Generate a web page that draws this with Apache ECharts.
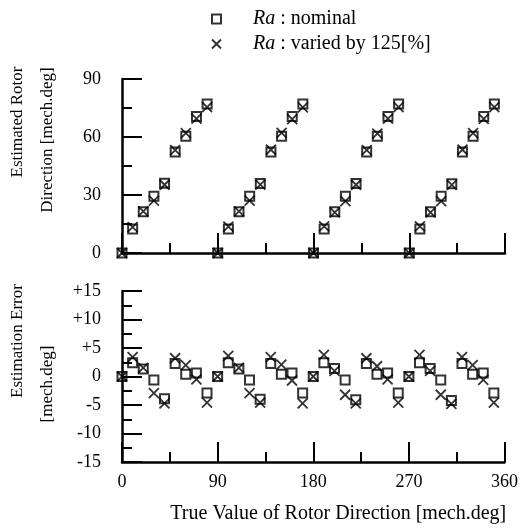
<!DOCTYPE html>
<html>
<head>
<meta charset="utf-8">
<script src="https://cdn.jsdelivr.net/npm/echarts@6/dist/echarts.min.js"></script>
<style>
  html, body { margin: 0; padding: 0; background: #fff; }
  #main { width: 521px; height: 532px; }
</style>
</head>
<body>
<div id="main"></div>
<script>
// true rotor direction [mech.deg]
const trueDeg = [0, 10, 20, 30, 40, 50, 60, 70, 80, 90, 100, 110, 120, 130, 140, 150, 160, 170,
                 180, 190, 200, 210, 220, 230, 240, 250, 260, 270, 280, 290, 300, 310, 320, 330, 340, 350];

// estimated rotor direction (wraps every 90 deg)
const estNominal = [0, 12.4, 21.3, 29.4, 36.1, 52.3, 60.4, 70.6, 77.1,
                    0, 12.4, 21.3, 29.4, 36.0, 52.3, 60.4, 70.6, 77.1,
                    0, 12.4, 21.4, 29.4, 35.9, 52.3, 60.4, 70.6, 77.1,
                    0, 12.4, 21.4, 29.4, 35.8, 52.3, 60.4, 70.6, 77.1];
const estVaried = [0, 13.4, 21.5, 27.1, 35.3, 53.2, 62.0, 69.5, 75.4,
                   0, 13.6, 21.5, 27.1, 35.4, 53.4, 62.1, 69.3, 75.3,
                   0, 13.8, 21.0, 26.8, 35.3, 53.2, 61.8, 69.5, 75.4,
                   0, 13.8, 21.0, 26.8, 35.2, 53.4, 62.0, 69.4, 75.4];

// estimation error [mech.deg]
const errNominal = [0, 2.4, 1.3, -0.6, -3.9, 2.3, 0.4, 0.6, -2.9,
                    0, 2.4, 1.3, -0.6, -4.0, 2.3, 0.4, 0.6, -2.9,
                    0, 2.4, 1.4, -0.6, -4.1, 2.3, 0.4, 0.6, -2.9,
                    0, 2.4, 1.4, -0.6, -4.2, 2.3, 0.4, 0.6, -2.9];
const errVaried = [0, 3.4, 1.5, -2.9, -4.7, 3.2, 2.0, -0.5, -4.6,
                   0, 3.6, 1.5, -2.9, -4.6, 3.4, 2.1, -0.7, -4.7,
                   0, 3.8, 1.0, -3.2, -4.7, 3.2, 1.8, -0.5, -4.6,
                   0, 3.8, 1.0, -3.2, -4.8, 3.4, 2.0, -0.6, -4.6];

const chart = echarts.init(document.getElementById('main'));
const font = '"Liberation Serif", "Times New Roman", serif';
const crossPath = 'path://M0,0L10,10M10,0L0,10';

function pairs(xs, ys) {
  return xs.map((x, i) => [x, ys[i]]);
}

const squareStyle = { color: 'rgba(0,0,0,0)', borderColor: '#000', borderWidth: 2 };
const crossStyle = { color: 'rgba(0,0,0,0)', borderColor: '#000', borderWidth: 1.8 };

function xAx(idx, showLabel) {
  return {
    gridIndex: idx,
    type: 'value',
    min: 0, max: 360, interval: 90,
    axisLine: { onZero: false, lineStyle: { color: '#000', width: 2.5 } },
    axisTick: { inside: true, length: 20, lineStyle: { color: '#000', width: 2 } },
    minorTick: { show: true, splitNumber: 2, length: 10, lineStyle: { color: '#000', width: 2 } },
    splitLine: { show: false },
    axisLabel: { show: showLabel, color: '#000', fontFamily: font, fontSize: 18, margin: 11 },
    name: showLabel ? 'True Value of Rotor Direction [mech.deg]' : '',
    nameLocation: 'middle',
    nameGap: 42,
    nameTextStyle: { color: '#000', fontFamily: font, fontSize: 20, padding: [0, 0, 0, 50] }
  };
}

function yAx(idx, min, max, interval, fmt) {
  return {
    gridIndex: idx,
    type: 'value',
    min: min, max: max, interval: interval,
    axisLine: { onZero: false, lineStyle: { color: '#000', width: 2.5 } },
    axisTick: { inside: true, length: 20, lineStyle: { color: '#000', width: 2 } },
    minorTick: { show: true, splitNumber: 2, length: 10, lineStyle: { color: '#000', width: 2 } },
    splitLine: { show: false },
    axisLabel: { color: '#000', fontFamily: font, fontSize: 18, margin: 21, formatter: fmt }
  };
}

const titleStyle = { fill: '#000', fontFamily: font, fontSize: 17 };

chart.setOption({
  animation: false,
  backgroundColor: '#fff',
  grid: [
    { left: 122, top: 79, width: 383, height: 174 },
    { left: 122, top: 291, width: 383, height: 171 }
  ],
  legend: {
    orient: 'vertical',
    left: 206, top: 4,
    itemWidth: 9, itemHeight: 9, itemGap: 5,
    selectedMode: false,
    data: ['nominal', 'varied'],
    formatter: function (name) {
      return name === 'nominal' ? '{i|Ra}{t| : nominal}' : '{i|Ra}{t| : varied by 125[%]}';
    },
    textStyle: {
      color: '#000', fontFamily: font, fontSize: 20,
      rich: {
        i: { fontStyle: 'italic', fontFamily: font, fontSize: 20, color: '#000', padding: [0, 0, 0, 27] },
        t: { fontFamily: font, fontSize: 20, color: '#000' }
      }
    }
  },
  xAxis: [xAx(0, false), xAx(1, true)],
  yAxis: [
    yAx(0, 0, 90, 30, v => String(v)),
    yAx(1, -15, 15, 5, v => (v > 0 ? '+' + v : String(v)))
  ],
  graphic: [
    { type: 'text', x: 18, y: 122, rotation: Math.PI / 2, style: Object.assign({ text: 'Estimated Rotor', align: 'center', verticalAlign: 'middle' }, titleStyle) },
    { type: 'text', x: 48, y: 140, rotation: Math.PI / 2, style: Object.assign({ text: 'Direction [mech.deg]', align: 'center', verticalAlign: 'middle' }, titleStyle) },
    { type: 'text', x: 18, y: 341, rotation: Math.PI / 2, style: Object.assign({ text: 'Estimation Error', align: 'center', verticalAlign: 'middle' }, titleStyle) },
    { type: 'text', x: 48, y: 384, rotation: Math.PI / 2, style: Object.assign({ text: '[mech.deg]', align: 'center', verticalAlign: 'middle' }, titleStyle) }
  ],
  series: [
    { name: 'nominal', type: 'scatter', xAxisIndex: 0, yAxisIndex: 0, symbol: 'rect', symbolSize: 9,
      itemStyle: squareStyle, data: pairs(trueDeg, estNominal) },
    { name: 'varied', type: 'scatter', xAxisIndex: 0, yAxisIndex: 0, symbol: crossPath, symbolSize: 10,
      itemStyle: crossStyle, data: pairs(trueDeg, estVaried) },
    { name: 'nominal', type: 'scatter', xAxisIndex: 1, yAxisIndex: 1, symbol: 'rect', symbolSize: 9,
      itemStyle: squareStyle, data: pairs(trueDeg, errNominal) },
    { name: 'varied', type: 'scatter', xAxisIndex: 1, yAxisIndex: 1, symbol: crossPath, symbolSize: 10,
      itemStyle: crossStyle, data: pairs(trueDeg, errVaried) }
  ]
});
</script>
</body>
</html>
